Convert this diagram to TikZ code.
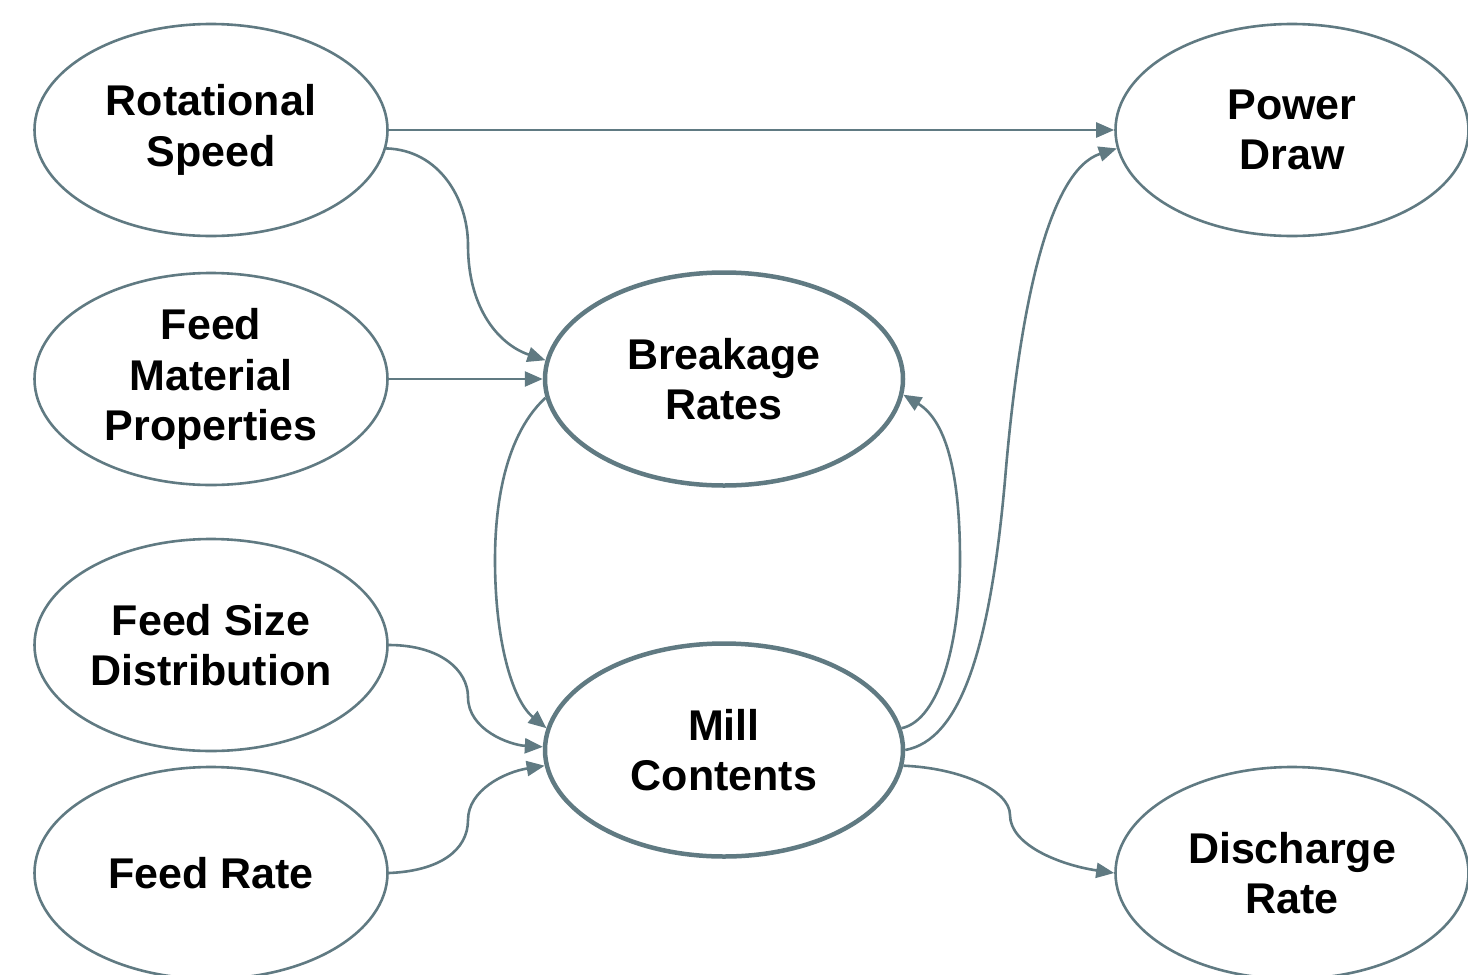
\documentclass[tikz,border=0pt]{standalone}
\usepackage{fontspec}
\setmainfont{Liberation Sans}
\usetikzlibrary{shapes.geometric,arrows.meta}
\definecolor{slate}{RGB}{96,122,130}
\begin{document}
\begin{tikzpicture}[x=1pt,y=-1pt,
  every node/.style={font=\bfseries\fontsize{43}{50.5}\selectfont, align=center, text=black},
  factor/.style={ellipse, draw=slate, line width=2.6pt, minimum width=353pt, minimum height=212pt, inner sep=0pt},
  core/.style={ellipse, draw=slate, line width=4.5pt, minimum width=358pt, minimum height=213pt, inner sep=0pt},
  link/.style={draw=slate, line width=2.6pt, -{Triangle[length=18pt,width=15pt]}}
]
\useasboundingbox (0,0) rectangle (1468,975);

% input factors
\node[factor] (rs)  at (211,130) {Rotational\\Speed};
\node[factor] (fm)  at (211,379) {Feed\\Material\\Properties};
\node[factor] (fsd) at (211,645) {Feed Size\\Distribution};
\node[factor] (fr)  at (211,873) {Feed Rate};

% mill state
\node[core] (bs) at (724,379) {Breakage\\Rates};
\node[core] (mc) at (724,750) {Mill\\Contents};

% outputs
\node[factor] (pd) at (1292,130) {Power\\Draw};
\node[factor] (dr) at (1292,873) {Discharge\\Rate};

% connectors
\draw[link] (rs.east) -- (pd.west);
\draw[link] (rs.-6) .. controls (440,150) and (468,200) .. (468,245)
                    .. controls (468,310) and (500,345) .. (bs.174);
\draw[link] (fm.east) -- (bs.west);
\draw[link] (bs.186) .. controls (500,440) and (495,520) .. (495,560)
                     .. controls (495,640) and (512,700) .. (mc.173);
\draw[link] (fsd.east) .. controls (440,645) and (468,670) .. (468,697)
                       .. controls (468,730) and (510,745) .. (mc.179);
\draw[link] (fr.east) .. controls (440,871) and (468,850) .. (468,820)
                      .. controls (468,790) and (505,772) .. (mc.185);
\draw[link] (mc.7) .. controls (940,720) and (960,640) .. (960,560)
                   .. controls (960,470) and (945,420) .. (bs.-5);
\draw[link] (mc.east) .. controls (960,740) and (990,650) .. (1005,480)
                      .. controls (1020,300) and (1050,170) .. (pd.186);
\draw[link] (mc.-5) .. controls (960,768) and (1010,790) .. (1010,815)
                    .. controls (1010,845) and (1060,865) .. (dr.west);
\end{tikzpicture}
\end{document}
